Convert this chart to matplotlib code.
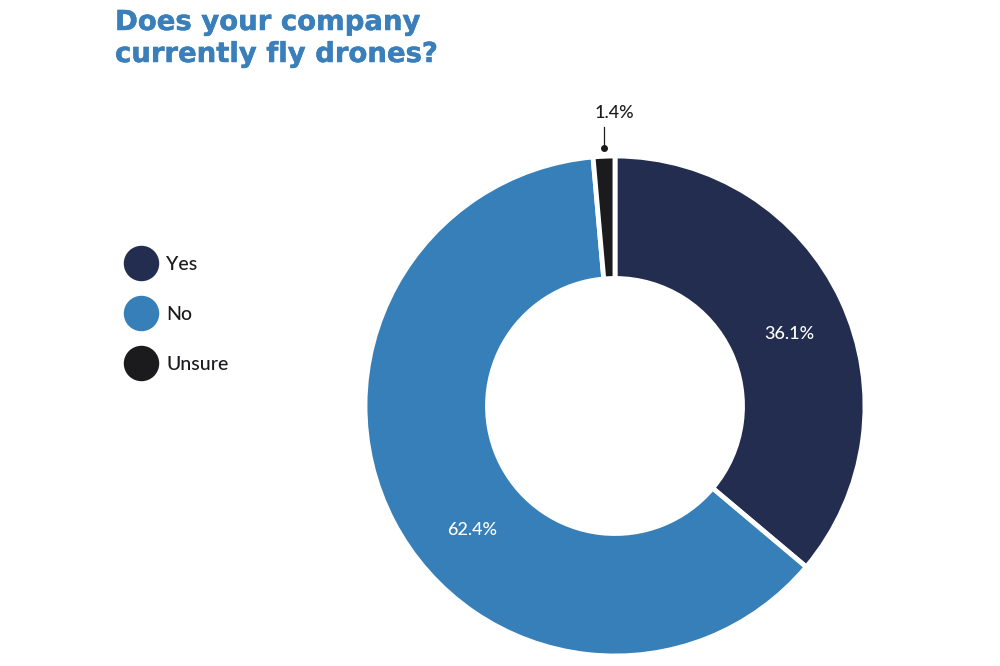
import numpy as np
import matplotlib
matplotlib.use("Agg")
import matplotlib.pyplot as plt
import matplotlib.patheffects as pe

labels = ["Yes", "No", "Unsure"]
values = [36.1, 62.4, 1.4]
colors = ["#222d4f", "#377fb8", "#1b1b1d"]
title_lines = ["Does your company", "currently fly drones?"]

plt.rcParams["font.family"] = ["Lato", "DejaVu Sans"]

fig = plt.figure(figsize=(10, 6.66), dpi=100)

# pie axes: center ~ (615, 406) px, outer radius ~250 px
r_px = 250
lim = 1.25
w = 2 * lim * r_px / 1000
h = 2 * lim * r_px / 666
cx, cy = 0.615, 1 - 406 / 666
ax = fig.add_axes([cx - w / 2, cy - h / 2, w, h])

wedges, _ = ax.pie(values, colors=colors, startangle=90, counterclock=False,
                   radius=1, wedgeprops=dict(width=0.49, edgecolor="white", linewidth=3.5))
ax.set_xlim(-lim, lim)
ax.set_ylim(-lim, lim)
ax.set_aspect("equal")
ax.axis("off")

# where along each wedge the label sits, measured clockwise from its start
label_frac = [0.52, 0.44, 0.5]
for wdg, v, fr in zip(wedges, values, label_frac):
    ang = np.deg2rad(wdg.theta2 - fr * (wdg.theta2 - wdg.theta1))
    if v > 5:
        ax.text(0.755 * np.cos(ang), 0.755 * np.sin(ang), f"{v}%", color="white",
                fontsize=13, ha="center", va="center", fontweight="medium")
    else:
        x0, y0 = 1.035 * np.cos(ang), 1.035 * np.sin(ang)
        ax.plot([x0, x0], [y0, 1.115], color="#1b1b1d", lw=0.9, clip_on=False)
        ax.plot([x0], [y0], "o", color="#1b1b1d", ms=4, clip_on=False)
        ax.text(x0 + 0.045, 1.17, f"{v}%", color="#1b1b1d", fontsize=13,
                ha="center", va="center", fontweight="medium")

# legend drawn on a full-figure overlay in pixel units
lg = fig.add_axes([0, 0, 1, 1])
lg.set_xlim(0, 1000)
lg.set_ylim(666, 0)
lg.axis("off")
for i, (lab, col) in enumerate(zip(labels, colors)):
    y = 263 + 50 * i
    lg.scatter([141], [y], s=34 ** 2 * 0.52, color=col)
    lg.text(166, y + 1, lab, fontsize=14, color="#1b1b1d", va="center", ha="left",
            fontweight="medium")

for i, line in enumerate(title_lines):
    lg.text(115, 30 + 32 * i, line, color="#3a7fb9", fontsize=19.8, fontweight="bold",
            family=["DejaVu Sans"], ha="left", va="baseline",
            path_effects=[pe.withStroke(linewidth=0.35, foreground="#3a7fb9")])

fig.savefig("out.png", dpi=100)
